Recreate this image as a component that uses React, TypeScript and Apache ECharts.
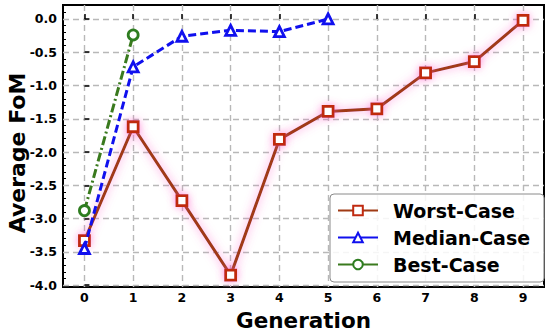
import React, { useEffect, useRef } from "react";
import * as echarts from "echarts";

const generations = [0, 1, 2, 3, 4, 5, 6, 7, 8, 9];
const worstCase = [-3.33, -1.62, -2.73, -3.85, -1.81, -1.39, -1.35, -0.81, -0.64, -0.02];
const medianCase = [-3.45, -0.72, -0.26, -0.17, -0.19, 0.0];
const bestCase = [-2.88, -0.24];
const yMajorTicks = [-4.0, -3.5, -3.0, -2.5, -2.0, -1.5, -1.0, -0.5, 0.0];
const seriesNames = ["Worst-Case", "Median-Case", "Best-Case"];
const yTitle = "Average FoM";
const xTitle = "Generation";

const FONT = "DejaVu Sans";

function pairs(vals: number[]) {
  return vals.map((v, i) => [generations[i], v]);
}

function minorTicks(): number[] {
  const out: number[] = [];
  for (let k = -40; k <= 2; k++) {
    if (k % 5 !== 0) out.push(k / 10);
  }
  return out;
}

export default function App() {
  const ref = useRef<HTMLDivElement>(null);
  useEffect(() => {
    if (!ref.current) return;
    const chart = echarts.init(ref.current, null, { renderer: "svg" });
    const gridLine = { show: true, lineStyle: { color: "#b8b8b8", width: 1.4, type: [6, 4] as any } };
    chart.setOption({
      animation: false,
      backgroundColor: "#ffffff",
      grid: {
        left: 63,
        top: 5,
        width: 481,
        height: 287,
        show: true,
        borderColor: "#000",
        borderWidth: 2,
        backgroundColor: "transparent",
      },
      graphic: [
        {
          type: "text",
          x: 17,
          y: 153,
          rotation: Math.PI / 2,
          style: {
            text: yTitle,
            fontFamily: FONT,
            fontWeight: "bold",
            fontSize: 22,
            fill: "#000",
            align: "center",
            verticalAlign: "middle",
          },
        },
      ],
      xAxis: {
        type: "value",
        min: -0.44,
        max: 9.43,
        name: xTitle,
        nameLocation: "middle",
        nameGap: 15,
        nameTextStyle: { fontFamily: FONT, fontWeight: "bold", fontSize: 21.5, color: "#000" },
        axisLine: { show: false },
        axisTick: { show: true, inside: true, length: 5, customValues: generations, lineStyle: { color: "#000", width: 1.5 } },
        axisLabel: {
          customValues: generations,
          margin: 4,
          fontFamily: FONT,
          fontWeight: "bold",
          fontSize: 12.5,
          color: "#000",
        },
        splitLine: gridLine,
      },
      yAxis: [
        {
          type: "value",
          min: -4.03,
          max: 0.21,
          axisLine: { show: false },
          axisTick: { show: true, inside: true, length: 5, customValues: yMajorTicks, lineStyle: { color: "#000", width: 1.5 } },
          axisLabel: {
            customValues: yMajorTicks,
            margin: 6,
            fontFamily: FONT,
            fontWeight: "bold",
            fontSize: 12.5,
            color: "#000",
            formatter: (v: number) => (Math.abs(v) < 1e-9 ? "0.0" : v.toFixed(1)),
          },
          splitLine: gridLine,
        },
        {
          type: "value",
          min: -4.03,
          max: 0.21,
          position: "left",
          axisLine: { show: false },
          axisTick: { show: true, inside: true, length: 3, customValues: minorTicks(), lineStyle: { color: "#000", width: 1 } },
          axisLabel: { show: false },
          splitLine: { show: false },
        },
      ],
      legend: {
        data: seriesNames,
        orient: "vertical",
        left: 330,
        top: 194,
        padding: [7, 14, 8, 7],
        itemWidth: 40,
        itemHeight: 12,
        itemGap: 8,
        borderColor: "#8a8a8a",
        borderWidth: 1,
        borderRadius: 4,
        backgroundColor: "rgba(255,255,255,0.85)",
        lineStyle: { type: "solid", shadowBlur: 0 },
        textStyle: { fontFamily: FONT, fontWeight: "bold", fontSize: 19, color: "#000", padding: [0, 0, 0, 10] },
      },
      series: [
        {
          name: seriesNames[0],
          type: "line",
          data: pairs(worstCase),
          symbol: "rect",
          symbolSize: 10,
          lineStyle: { color: "#a03a14", width: 3, shadowColor: "rgba(255,90,200,0.7)", shadowBlur: 10 },
          itemStyle: { color: "#ffffff", borderColor: "#c02a10", borderWidth: 2.8, shadowColor: "rgba(255,90,200,0.6)", shadowBlur: 8 },
          z: 3,
        },
        {
          name: seriesNames[1],
          type: "line",
          data: pairs(medianCase),
          symbol: "triangle",
          symbolSize: 10,
          lineStyle: { color: "#1010ee", width: 3, type: [8, 4] },
          itemStyle: { color: "#ffffff", borderColor: "#1010ee", borderWidth: 2.8 },
          z: 4,
        },
        {
          name: seriesNames[2],
          type: "line",
          data: pairs(bestCase),
          symbol: "circle",
          symbolSize: 10,
          lineStyle: { color: "#3a7a1e", width: 3, type: [9, 3, 2, 3] },
          itemStyle: { color: "#ffffff", borderColor: "#2e7d20", borderWidth: 2.8 },
          z: 5,
        },
      ],
    });
    return () => chart.dispose();
  }, []);
  return (
    <div
      ref={ref}
      style={{ position: "absolute", left: 0, top: 0, width: 550, height: 336 }}
    />
  );
}
